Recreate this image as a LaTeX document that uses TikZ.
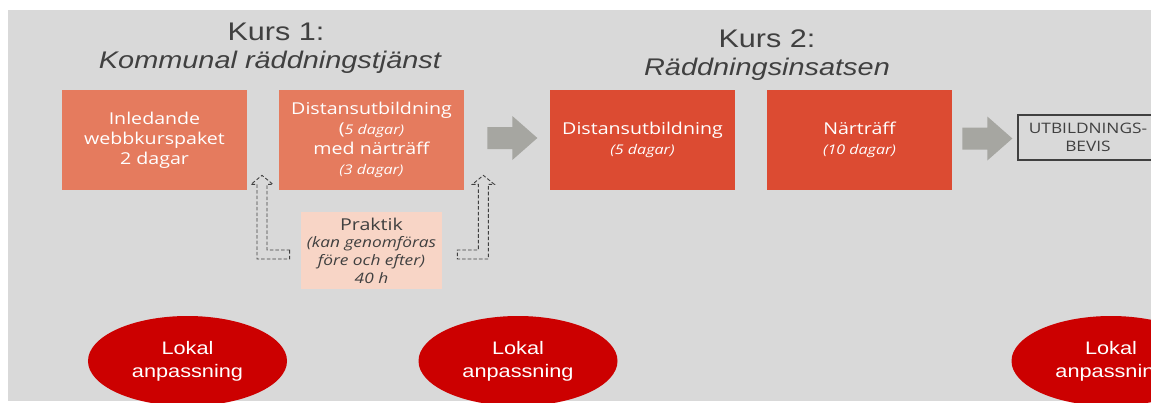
\documentclass[tikz,border=0pt]{standalone}
\usepackage{fontspec}
\setmainfont{Open Sans}[FakeStretch=1.2]
\newfontfamily\arialfont{Liberation Sans}[FakeStretch=1.2]
\usepackage{tikz}
\usetikzlibrary{shapes.geometric,calc}
\definecolor{bggrey}{HTML}{D9D9D9}
\definecolor{salmon}{HTML}{E57B5E}
\definecolor{brickred}{HTML}{DC4B32}
\definecolor{palepink}{HTML}{F8D5C6}
\definecolor{lokalred}{HTML}{CC0000}
\definecolor{arrowgrey}{HTML}{A6A6A1}
\definecolor{darktext}{HTML}{404040}
\newcommand{\dgr}[1]{{\fontsize{7.6}{11.3}\selectfont\itshape #1}}
\newcommand{\prk}[1]{{\fontsize{8.2}{10}\selectfont\itshape #1}}

\begin{document}
\begin{tikzpicture}[x=0.2mm,y=-0.2mm,
  coursebox/.style={fill=#1,text=white,minimum width=37mm,minimum height=20mm,
    inner sep=0pt,align=center,font=\fontsize{9.3}{11.3}\selectfont},
  heading/.style={anchor=base,text=darktext,inner sep=0pt,
    font=\arialfont\fontsize{14.5}{16}\selectfont},
  subheading/.style={anchor=base,text=darktext,inner sep=0pt,
    font=\arialfont\itshape\fontsize{13.7}{16}\selectfont},
  lokal/.style={ellipse,fill=lokalred,text=white,minimum width=39.8mm,
    minimum height=18mm,inner sep=0pt,align=center,
    font=\arialfont\fontsize{10.3}{13}\selectfont},
  hollowarrow/.style={draw=darktext,dashed,dash pattern=on 2pt off 1.2pt,line width=0.5pt},
  pics/greyarrow/.style={code={
    \fill[arrowgrey] (0,-11) -- (25,-11) -- (25,-22) -- (50,0) -- (25,22)
      -- (25,11) -- (0,11) -- cycle;}}
]
\useasboundingbox (0,0) rectangle (1151,403);
\clip (0,0) rectangle (1151,403);
\fill[bggrey] (8,10) rectangle (1151,401);

% titles
\node[heading] (kurs1) at (276,40) {Kurs 1:};
\node[subheading] (kurs1sub) at (270,68) {Kommunal räddningstjänst};
\node[heading] (kurs2) at (767,47) {Kurs 2:};
\node[subheading] (kurs2sub) at (767,75) {Räddningsinsatsen};

% course boxes
\node[coursebox=salmon] (inled) at (154.5,140) {Inledande\\webbkurspaket\\2 dagar};
\node[coursebox=salmon] (dist1) at (371.5,140)
  {Distansutbildning\\(\dgr{5 dagar)}\\med närträff\\\dgr{(3 dagar)}};
\node[coursebox=brickred] (dist2) at (642.5,140) {Distansutbildning\\\dgr{(5 dagar)}};
\node[coursebox=brickred] (nar) at (859.5,140) {Närträff\\\dgr{(10 dagar)}};

\node[draw=darktext,line width=0.6pt,text=darktext,minimum width=28mm,minimum height=9mm,
  inner sep=0pt,align=center,font=\fontsize{8.2}{10.2}\selectfont]
  (bevis) at (1088,137.5) {UTBILDNINGS-\\BEVIS};

\node[fill=palepink,text=darktext,minimum width=28.2mm,minimum height=15.4mm,inner sep=0pt,
  align=center,font=\fontsize{9.3}{10}\selectfont] (prak) at (371.5,250.5)
  {Praktik\\\prk{(kan genomföras}\\\prk{före och efter)}\\\prk{40 h}};

% grey arrows
\pic at ($(dist1.east)+(23,-2)$) {greyarrow};
\pic at ($(nar.east)+(10,-1.5)$) {greyarrow};

% dashed arrows from Praktik
\coordinate (tipL) at ($(inled.south east)!0.5!(dist1.south west)+(-1,-15)$);
\coordinate (tipR) at ($(dist1.south east)+(19,-15)$);
\draw[hollowarrow] ($(prak.west)+(-11,0)$) -- ++(0,-0.5) -| ($(tipL)+(5,9)$) -- ++(6,0)
  -- (tipL) -- ++(-11,9) -- ++(6,0) |- ($(prak.west)+(-11,8.5)$) -- cycle;
\draw[hollowarrow] ($(prak.east)+(15,0)$) -- ++(0,-0.5) -| ($(tipR)+(-5,9)$) -- ++(-6,0)
  -- (tipR) -- ++(11,9) -- ++(-6,0) |- ($(prak.east)+(15,8.5)$) -- cycle;

% local adaptation
\node[lokal] (lok1) at (187.5,361) {Lokal\\anpassning};
\node[lokal] (lok2) at (518,361) {Lokal\\anpassning};
\node[lokal] (lok3) at (1111,361) {Lokal\\anpassning};

\end{tikzpicture}
\end{document}
